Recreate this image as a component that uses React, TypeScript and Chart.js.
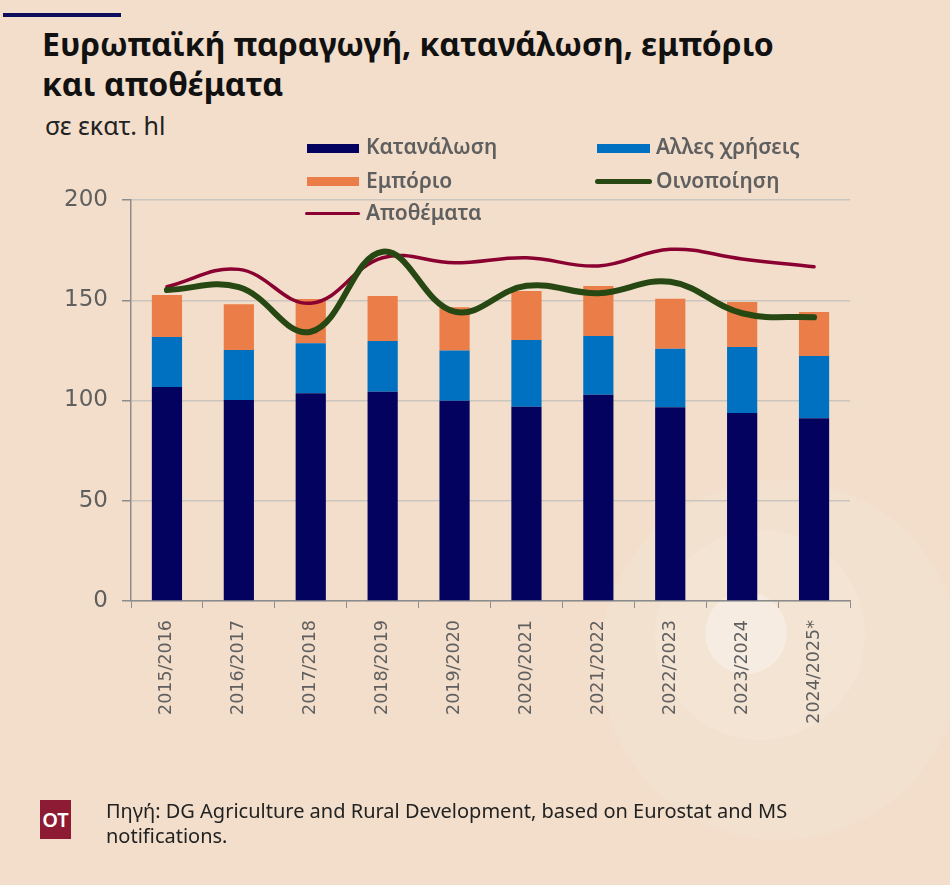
import React, { useEffect, useRef } from "react";
import { Chart, registerables } from "chart.js";

Chart.register(...registerables);

const categories = [
  "2015/2016", "2016/2017", "2017/2018", "2018/2019", "2019/2020",
  "2020/2021", "2021/2022", "2022/2023", "2023/2024", "2024/2025*",
];
const consumption = [106.7, 100.2, 103.6, 104.4, 99.9, 96.9, 102.9, 96.6, 93.8, 91.1];
const otherUses = [25.0, 25.0, 24.9, 25.3, 25.1, 33.3, 29.3, 29.2, 32.9, 31.1];
const trade = [20.9, 22.8, 22.1, 22.4, 21.5, 24.4, 24.9, 25.0, 22.4, 21.9];
const production = [155.1, 156.5, 134.3, 174.2, 144.3, 157.2, 153.5, 159.2, 143.5, 141.5];
const stocks = [156.8, 165.4, 148.5, 171.2, 168.7, 171.2, 167.1, 175.4, 170.6, 166.7];
const yTicks = [0, 50, 100, 150, 200];

const seriesNames = ["Κατανάλωση", "Αλλες χρήσεις", "Εμπόριο", "Οινοποίηση", "Αποθέματα"];

const NAVY = "#03035f";
const BLUE = "#0070c0";
const ORANGE = "#eb7d48";
const GREEN = "#274813";
const RED = "#8a0030";
const BG = "#f2decb";
const TXT = "#5f5f5f";
const AXIS = "#8c8c8c";

export default function App() {
  const ref = useRef<HTMLCanvasElement | null>(null);

  useEffect(() => {
    document.body.style.margin = "0";
    const ctx = ref.current;
    if (!ctx) return;
    const chart = new Chart(ctx, {
      type: "bar",
      data: {
        labels: categories,
        datasets: [
          {
            type: "line",
            label: seriesNames[3],
            data: production,
            borderColor: GREEN,
            backgroundColor: GREEN,
            borderWidth: 6,
            tension: 0.4,
            pointRadius: 0,
            borderCapStyle: "round",
            stack: "s_green",
            order: 0,
          } as any,
          {
            type: "line",
            label: seriesNames[4],
            data: stocks,
            borderColor: RED,
            backgroundColor: RED,
            borderWidth: 3.5,
            tension: 0.4,
            pointRadius: 0,
            borderCapStyle: "round",
            stack: "s_red",
            order: 1,
          } as any,
          {
            label: seriesNames[0],
            data: consumption,
            backgroundColor: NAVY,
            stack: "bars",
            order: 2,
          },
          {
            label: seriesNames[1],
            data: otherUses,
            backgroundColor: BLUE,
            stack: "bars",
            order: 2,
          },
          {
            label: seriesNames[2],
            data: trade,
            backgroundColor: ORANGE,
            stack: "bars",
            order: 2,
          },
        ],
      },
      options: {
        animation: false,
        responsive: false,
        devicePixelRatio: 1,
        layout: { padding: { top: 200, right: 100, bottom: 0, left: 0 } },
        datasets: {
          bar: { categoryPercentage: 1, barPercentage: 0.42 },
        } as any,
        plugins: {
          legend: { display: false },
          title: { display: false },
          tooltip: { enabled: false },
        },
        scales: {
          x: {
            stacked: true,
            grid: {
              display: true,
              drawOnChartArea: false,
              drawTicks: true,
              tickLength: 7,
              color: AXIS,
              offset: true,
            },
            border: { display: true, color: AXIS, width: 1.5 },
            ticks: {
              color: TXT,
              font: { family: "'DejaVu Sans'", size: 17.5 },
              minRotation: 90,
              maxRotation: 90,
              padding: 12,
              autoSkip: false,
            },
            afterFit: (s: any) => {
              s.height = 284;
            },
          },
          y: {
            stacked: true,
            min: 0,
            max: 200,
            afterBuildTicks: (s: any) => {
              s.ticks = yTicks.map((v) => ({ value: v }));
            },
            grid: {
              color: "#cbc5bf",
              lineWidth: 1.5,
              drawTicks: true,
              tickLength: 9,
              tickColor: AXIS,
              tickWidth: 1.5,
            } as any,
            border: { display: true, color: AXIS, width: 1.5 },
            ticks: {
              color: TXT,
              font: { family: "'DejaVu Sans'", size: 23 },
              padding: 14,
            },
            afterFit: (s: any) => {
              s.width = 131;
            },
          },
        },
      },
    });
    return () => chart.destroy();
  }, []);

  const legendText: React.CSSProperties = {
    position: "absolute",
    fontFamily: "Noto Sans, sans-serif",
    fontSize: 21,
    fontWeight: 600,
    color: TXT,
    lineHeight: "26px",
    whiteSpace: "nowrap",
  };

  const swatch = (left: number, top: number, w: number, h: number, c: string, r = 0): React.CSSProperties => ({
    position: "absolute",
    left,
    top,
    width: w,
    height: h,
    background: c,
    borderRadius: r,
  });

  return (
    <div
      style={{
        position: "relative",
        width: 950,
        height: 885,
        background: BG,
        overflow: "hidden",
        fontFamily: "Noto Sans, sans-serif",
      }}
    >
      {/* decorative circles */}
      <div style={{ position: "absolute", left: 600, top: 480, width: 360, height: 360, borderRadius: "50%", background: "rgba(255,255,255,0.10)" }} />
      <div style={{ position: "absolute", left: 655, top: 530, width: 210, height: 210, borderRadius: "50%", background: "rgba(255,255,255,0.10)" }} />
      <div style={{ position: "absolute", left: 705, top: 592, width: 82, height: 82, borderRadius: "50%", background: "rgba(255,255,255,0.30)" }} />

      {/* top accent line */}
      <div style={{ position: "absolute", left: 3, top: 13, width: 118, height: 4, background: "#0d0d5e" }} />

      <div
        style={{
          position: "absolute",
          left: 42,
          top: 24,
          fontSize: 32,
          fontWeight: 700,
          lineHeight: "40px",
          color: "#111",
          whiteSpace: "nowrap",
        }}
      >
        Ευρωπαϊκή παραγωγή, κατανάλωση, εμπόριο
        <br />
        και αποθέματα
      </div>
      <div style={{ position: "absolute", left: 45, top: 108, fontSize: 25, fontWeight: 400, color: "#222" }}>
        σε εκατ. hl
      </div>

      <canvas ref={ref} width={950} height={885} style={{ position: "absolute", left: 0, top: 0, width: 950, height: 885 }} />

      {/* legend */}
      <div style={swatch(307, 144, 52, 9, NAVY)} />
      <div style={{ ...legendText, left: 366, top: 133 }}>{seriesNames[0]}</div>
      <div style={swatch(597, 144, 53, 9, BLUE)} />
      <div style={{ ...legendText, left: 656, top: 133 }}>{seriesNames[1]}</div>
      <div style={swatch(307, 177, 52, 9, ORANGE)} />
      <div style={{ ...legendText, left: 366, top: 167 }}>{seriesNames[2]}</div>
      <div style={swatch(595, 179, 57, 5, GREEN, 3)} />
      <div style={{ ...legendText, left: 656, top: 167 }}>{seriesNames[3]}</div>
      <div style={swatch(305, 212, 55, 3, RED, 2)} />
      <div style={{ ...legendText, left: 366, top: 199 }}>{seriesNames[4]}</div>

      {/* footer */}
      <div
        style={{
          position: "absolute",
          left: 40,
          top: 800,
          width: 31,
          height: 39,
          background: "#8c1b33",
          color: "#fff",
          fontSize: 20,
          fontWeight: 600,
          display: "flex",
          alignItems: "center",
          justifyContent: "center",
        }}
      >
        OT
      </div>
      <div
        style={{
          position: "absolute",
          left: 106,
          top: 798,
          width: 710,
          fontSize: 20,
          lineHeight: "25px",
          color: "#222",
          fontFamily: "Noto Sans, sans-serif",
        }}
      >
        Πηγή: DG Agriculture and Rural Development, based on Eurostat and MS notifications.
      </div>
    </div>
  );
}
